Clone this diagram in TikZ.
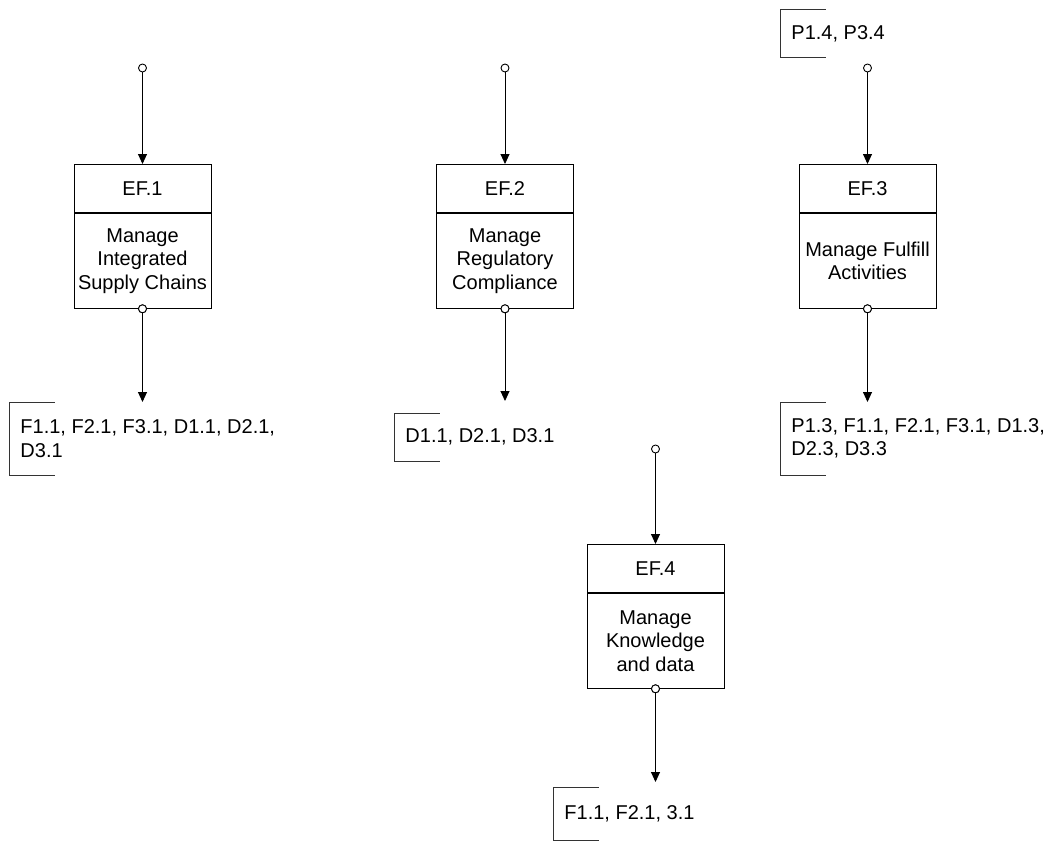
\documentclass[tikz,border=0pt]{standalone}
\usepackage{fontspec}
\setmainfont{Liberation Sans}
\usetikzlibrary{positioning,calc,arrows.meta}
\tikzset{
  efhead/.style={draw,minimum width=137pt,minimum height=48pt,inner sep=0pt,anchor=north},
  efbody/.style={draw,minimum width=137pt,minimum height=95pt,inner sep=0pt,align=center},
  port/.style={circle,draw,fill=white,inner sep=0pt,minimum size=8pt},
  note/.style={anchor=north west,align=left,inner xsep=10.5pt,inner ysep=0pt},
  flow/.style={-{Triangle[length=10pt,width=9pt]}},
}
\begin{document}
\begin{tikzpicture}[x=1pt,y=-1pt,line width=0.9pt,font=\fontsize{20pt}{23.5pt}\selectfont]
   \useasboundingbox (0,0) rectangle (1052,844);
   % processes
   \node[efhead] (ef1) at (142.5,164) {EF.1};
   \node[efbody,below=0pt of ef1] (ef1b) {Manage\\Integrated\\Supply Chains};
   \node[efhead] (ef2) at (505,164) {EF.2};
   \node[efbody,below=0pt of ef2] (ef2b) {Manage\\Regulatory\\Compliance};
   \node[efhead] (ef3) at (867.5,164) {EF.3};
   \node[efbody,below=0pt of ef3] (ef3b) {Manage Fulfill\\Activities};
   \node[efhead] (ef4) at (655.5,544) {EF.4};
   \node[efbody,below=0pt of ef4] (ef4b) {Manage\\Knowledge\\and data};
   % ports
   \node[port] (in1) at (142.5,68) {};
   \node[port] (in2) at (505,68) {};
   \node[port] (in3) at (867.5,68) {};
   \node[port] (in4) at (655.5,449) {};
   \node[port] (out1) at (ef1b.south) {};
   \node[port] (out2) at (ef2b.south) {};
   \node[port] (out3) at (ef3b.south) {};
   \node[port] (out4) at (ef4b.south) {};
   % notes
   \node[note,minimum height=72pt] (n1) at (9.5,402) {F1.1, F2.1, F3.1, D1.1, D2.1,\\D3.1};
   \node[note,minimum height=47pt] (n2) at (394.5,413) {D1.1, D2.1, D3.1};
   \node[note,minimum height=72pt] (n3) at (780.5,402) {P1.3, F1.1, F2.1, F3.1, D1.3,\\D2.3, D3.3};
   \node[note,minimum height=47pt] (n3in) at (780.5,9.5) {P1.4, P3.4};
   \node[note,minimum height=52pt] (n4) at (553.5,787) {F1.1, F2.1, 3.1};
   \foreach \n in {n1,n2,n3,n3in,n4}
     \draw[line width=0.7pt,black!80] ([xshift=45pt]\n.north west) -| (\n.south west) -- ++(45,0);
   % flows
   \foreach \i in {1,...,4}
     \draw[flow] (in\i) -- (ef\i.north);
   \draw[flow] (out1) -- (out1 |- n1.north);
   \draw[flow] (out2) -- ([yshift=12pt]out2 |- n2.north);
   \draw[flow] (out3) -- (out3 |- n3.north);
   \draw[flow] (out4) -- ([yshift=5pt]out4 |- n4.north);
   \foreach \i in {1,...,4}
     \node[port] at (out\i) {};
\end{tikzpicture}
\end{document}
